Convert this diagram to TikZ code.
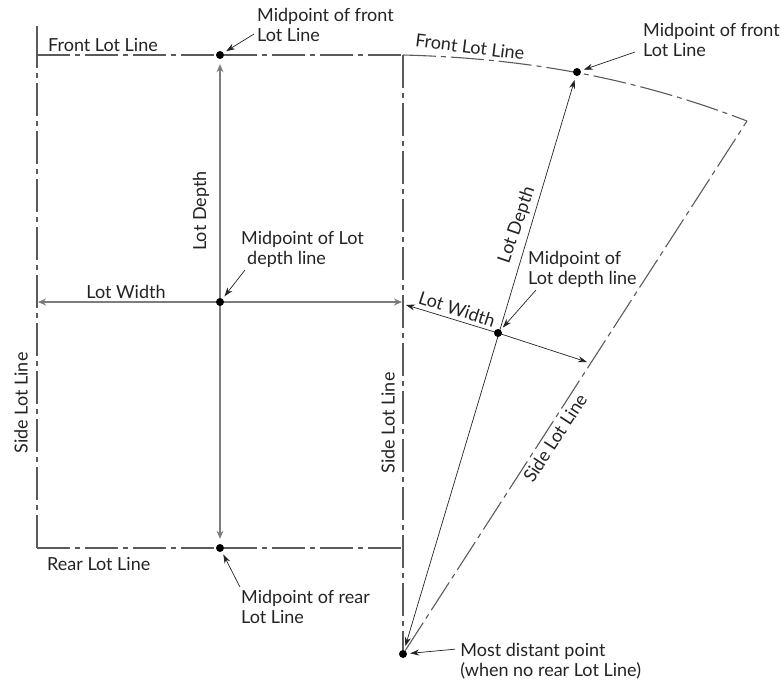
\documentclass[tikz,border=0pt]{standalone}
\usepackage{fontspec}
\setmainfont{Lato}
\usepackage{tikz}
\usetikzlibrary{positioning,arrows.meta,calc,backgrounds}
\definecolor{lotink}{RGB}{35,35,35}
\definecolor{lotgrey}{RGB}{125,125,125}

\begin{document}
\begin{tikzpicture}[
    x=1pt, y=-1pt,
    lbl/.style={font=\fontsize{18}{20}\selectfont, text=lotink, align=left, inner sep=0pt},
    pt/.style={circle, fill=black, minimum size=8pt, inner sep=0pt},
    lotline/.style={draw=lotink!75, line width=1.1pt, dash pattern=on 33pt off 5pt on 5pt off 5pt},
    dimgrey/.style={{Stealth[length=8pt,width=7pt]}-{Stealth[length=8pt,width=7pt]}, draw=lotgrey, line width=1.2pt},
    dimthin/.style={{Stealth[length=9pt,width=6pt]}-{Stealth[length=9pt,width=6pt]}, draw=lotink, line width=.7pt},
    lead/.style={-{Stealth[length=9pt,width=6pt]}, draw=lotink, line width=.7pt},
]
\useasboundingbox (0,0) rectangle (782,681);

% ---- Square lot ----
\coordinate (fl) at (37,55);
\coordinate (fr) at (403,55);
\coordinate (rl) at (37,548);
\coordinate (rr) at (403,548);
\coordinate (wl) at (37,302);
\coordinate (wr) at (403,302);
\coordinate (ftop) at (37,26);
\node[pt] (front) at (220,55)  {};
\node[pt] (mid)   at (220,302) {};
\node[pt] (rear)  at (220,548) {};

\begin{scope}[on background layer]
\draw[lotink!75, line width=1.1pt] (ftop) -- (fl);
\draw[lotline] (fl) -- (front) -- (fr);
\draw[lotline] (rl) -- (rear) -- (rr);
\draw[lotline] (rl) -- (fl);
\draw[dimgrey, shorten >=5pt, shorten <=5pt] (front) -- (rear);
\draw[dimgrey, shorten <=1pt, shorten >=1pt] (wl) -- (wr);
\end{scope}

\node[lbl, above right=3pt and 11pt of fl, anchor=south west] (frontname) {Front Lot Line};
\node[lbl, below right=16pt and 10pt of rl, anchor=west] (rearname) {Rear Lot Line};
\node[lbl, rotate=90] (depthname) at (201,211) {Lot Depth};
\node[lbl] (widthname) at (126,292) {Lot Width};
\node[lbl, rotate=90] (sidename) at (21,403) {Side Lot Line};

\node[lbl, above right=10pt and 34pt of front] (frontnote) {Midpoint of front\\Lot Line};
\node[lbl, above right=31pt and 18pt of mid] (midnote) {Midpoint of Lot\\\hspace{6pt}depth line};
\node[lbl, below right=39pt and 18pt of rear] (rearnote) {Midpoint of rear\\Lot Line};
\draw[lead, shorten >=3pt] ($(frontnote.south west)+(-3,-8)$) -- (front);
\draw[lead, shorten >=3pt] ($(midnote.south west)+(4,2)$) -- (mid);
\draw[lead, shorten >=3pt] ($(rearnote.north west)+(-1,-3)$) -- (rear);

% ---- Wedge lot ----
\coordinate (corner) at (747,121);
\coordinate (wedgewl) at (403,304);
\coordinate (wedgewr) at (587,362);
\node[pt] (wedgefront) at (577,72)  {};
\node[pt] (wedgemid)   at (498,333) {};
\node[pt] (far)        at (403,654) {};

\begin{scope}[on background layer]
\draw[lotline] (fr) -- (far);
\draw[lotline] (fr) .. controls (520,58) and (630,76) .. (corner);
\draw[lotline] (far) -- (corner);
\draw[dimthin, shorten >=4pt, shorten <=4pt] (far) -- (wedgefront);
\draw[dimthin, shorten <=3pt] (wedgewl) -- (wedgemid.center) -- (wedgewr);
\end{scope}

\node[lbl, rotate=-7] (wedgefrontname) at (470,47) {Front Lot Line};
\node[lbl, rotate=71] (wedgedepthname) at (517,225) {Lot Depth};
\node[lbl, rotate=-18] (wedgewidthname) at (457,309) {Lot Width};
\node[lbl, rotate=90] (wedgerightname) at (388,423) {Side Lot Line};
\node[lbl, rotate=57] (wedgesidename) at (555,438) {Side Lot Line};

\node[lbl, above right=12pt and 63pt of wedgefront] (wedgefrontnote) {Midpoint of front\\Lot Line};
\node[lbl, above right=42pt and 27pt of wedgemid] (wedgemidnote) {Midpoint of\\Lot depth line};
\node[lbl, right=53pt of far, anchor=north west, yshift=11pt] (farnote) {Most distant point\\(when no rear Lot Line)};
\draw[lead, shorten >=3pt] ($(wedgefrontnote.south west)+(-8,-5)$) -- (wedgefront);
\draw[lead, shorten >=3pt] ($(wedgemidnote.south west)+(8,2)$) -- (wedgemid);
\draw[lead, shorten >=3pt] ($(farnote.west)+(-5,-12)$) -- (far);
\end{tikzpicture}
\end{document}
